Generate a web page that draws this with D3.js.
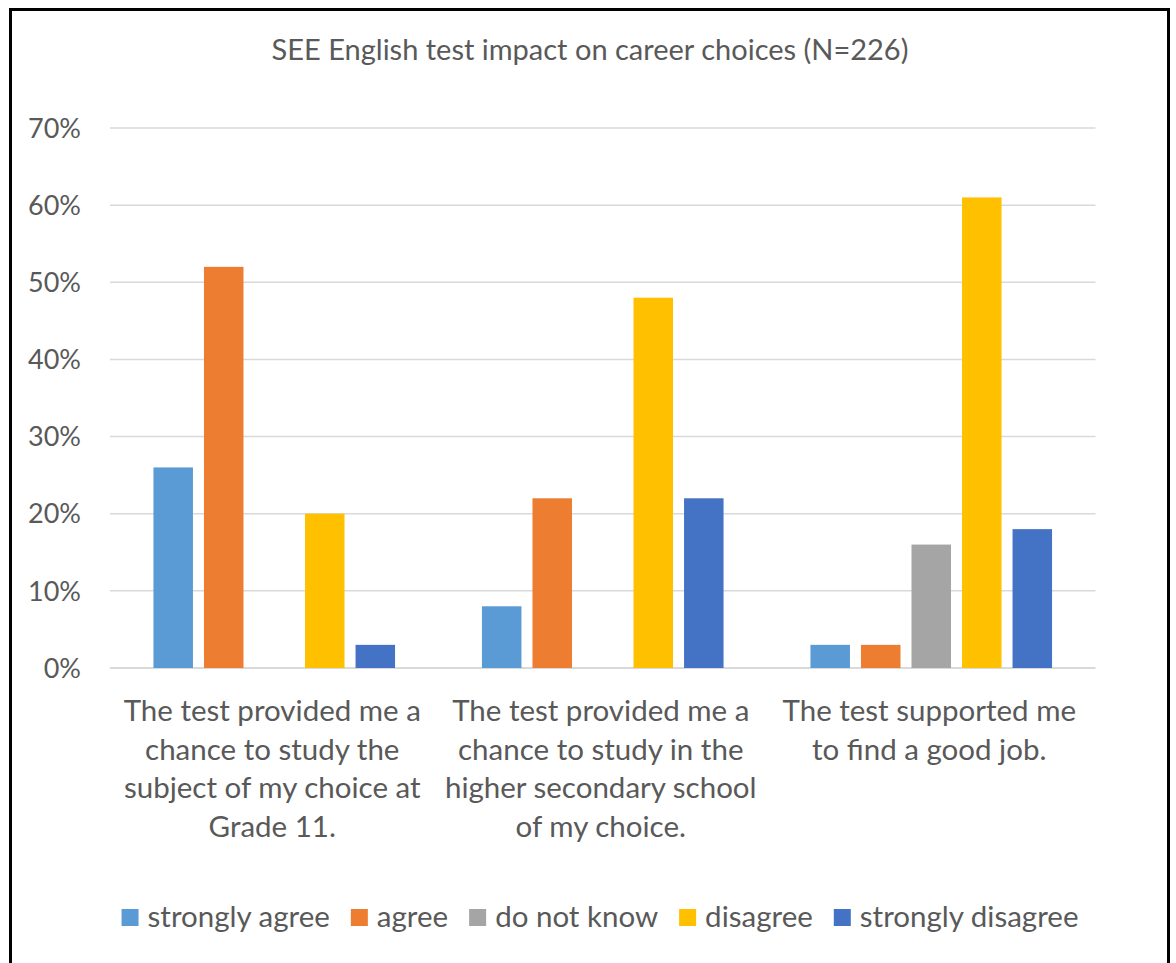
<!DOCTYPE html>
<html><head><meta charset="utf-8">
<script src="https://cdn.jsdelivr.net/npm/d3@7"></script>
<style>body{margin:0;background:#fff}svg{display:block}text{font-family:Lato,"Open Sans",sans-serif;fill:#595959}</style>
</head><body><svg id="c" width="1176" height="963"></svg>
<script>
const title = "SEE English test impact on career choices (N=226)";
const categories = ["c1","c2","c3"];
const categoryLabels = [
  ["The test provided me a","chance to study the","subject of my choice at","Grade 11."],
  ["The test provided me a","chance to study in the","higher secondary school","of my choice."],
  ["The test supported me","to find a good job."]
];
const series = ["strongly agree","agree","do not know","disagree","strongly disagree"];
const colors = ["#5B9BD5","#ED7D31","#A5A5A5","#FFC000","#4472C4"];
const stronglyAgree = [26, 8, 3];
const agree = [52, 22, 3];
const doNotKnow = [0, 0, 16];
const disagree = [20, 48, 61];
const stronglyDisagree = [3, 22, 18];
const yTicks = [0,10,20,30,40,50,60,70];

const values = [stronglyAgree, agree, doNotKnow, disagree, stronglyDisagree];
const svg = d3.select("#c");
svg.append("rect").attr("x",10.5).attr("y",9.5).attr("width",1158).attr("height",1000)
  .attr("fill","#fff").attr("stroke","#000").attr("stroke-width",3);

const x0 = d3.scaleBand().domain(categories).range([110,1095.5]).padding(0);
const x1 = d3.scaleBand().domain(series).range([0,x0.bandwidth()]).paddingInner(0.218).paddingOuter(0.86);
const y = d3.scaleLinear().domain([0,70]).range([668,128]);

svg.append("text").attr("x",590).attr("y",60).attr("text-anchor","middle")
  .style("font-size","29px").text(title);

const gy = svg.append("g");
gy.selectAll("line").data(yTicks).join("line")
  .attr("x1",110).attr("x2",1095.5).attr("y1",d=>y(d)).attr("y2",d=>y(d))
  .attr("stroke","#D9D9D9").attr("stroke-width",d=>d===0?2:1.5);
gy.selectAll("text").data(yTicks).join("text")
  .attr("x",81).attr("y",d=>y(d)).attr("dy","0.36em").attr("text-anchor","end")
  .style("font-size","27px").text(d=>d+"%");

const groups = svg.selectAll("g.grp").data(categories).join("g").attr("class","grp")
  .attr("transform",d=>`translate(${x0(d)},0)`);
groups.selectAll("rect").data((d,i)=>series.map((s,j)=>({s,v:values[j][i],c:colors[j]}))).join("rect")
  .attr("x",d=>x1(d.s)).attr("width",x1.bandwidth())
  .attr("y",d=>y(d.v)).attr("height",d=>y(0)-y(d.v)).attr("fill",d=>d.c);

categories.forEach((c,i)=>{
  const t = svg.append("text").attr("text-anchor","middle").style("font-size","29.5px");
  categoryLabels[i].forEach((ln,k)=>{
    t.append("tspan").attr("x",x0(c)+x0.bandwidth()/2 - 2).attr("y",721+k*38.5).text(ln);
  });
});

// legend
const lg = svg.append("g");
const items = series.map((s,j)=>{
  const g = lg.append("g");
  g.append("rect").attr("width",17).attr("height",17).attr("y",-18).attr("fill",colors[j]);
  const t = g.append("text").attr("x",26).attr("y",0).style("font-size","29.5px").text(s);
  return {g, w: 26 + t.node().getComputedTextLength()};
});
const gap = 21;
const total = d3.sum(items,d=>d.w) + gap*(items.length-1);
let cx = 600 - total/2;
items.forEach(it=>{ it.g.attr("transform",`translate(${cx},927)`); cx += it.w + gap; });
</script></body></html>
